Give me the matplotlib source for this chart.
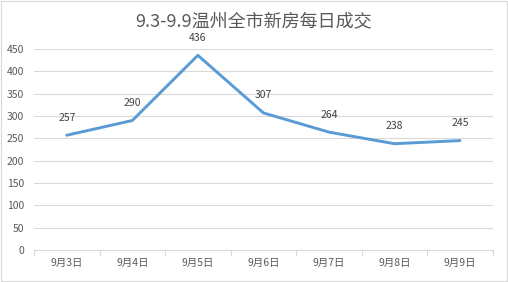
"""Daily new-home transactions in Wenzhou, 9.3-9.9."""

import matplotlib
matplotlib.use('Agg')
from matplotlib import pyplot as plt

plt.rcParams['font.family'] = ['Noto Sans CJK SC', 'DejaVu Sans']

days = ['9月3日', '9月4日', '9月5日', '9月6日', '9月7日', '9月8日', '9月9日']
deals = [257, 290, 436, 307, 264, 238, 245]
y_ticks = [0, 50, 100, 150, 200, 250, 300, 350, 400, 450]

_GRID = '#d9d9d9'
_TEXT = '#595959'


def main():
    fig = plt.figure(figsize=(5.08, 2.82), dpi=100)
    ax = fig.add_axes([0.067, 0.1135, 0.903, 0.7125])

    # Line series
    x = list(range(len(days)))
    ax.plot(x, deals, color='#5b9bd5', linewidth=2.1, solid_capstyle='round',
            solid_joinstyle='round', zorder=3)
    for xi, v in zip(x, deals):
        ax.annotate(str(v), (xi, v), xytext=(0, 9), textcoords='offset points',
                    ha='center', va='bottom', fontsize=7.5, color='#404040')

    # Axes
    ax.set_xlim(-0.5, len(days) - 0.5)
    ax.set_ylim(0, 450)
    ax.set_yticks(y_ticks)
    ax.tick_params(axis='y', length=0, labelsize=7.5, labelcolor=_TEXT, pad=7)
    ax.set_xticks(x)
    ax.set_xticklabels(days)
    ax.tick_params(axis='x', length=0, labelsize=7.5, labelcolor=_TEXT, pad=6)
    ax.set_xticks([i - 0.5 for i in range(len(days) + 1)], minor=True)
    ax.tick_params(axis='x', which='minor', length=4, color=_GRID, width=0.8)
    ax.grid(axis='y', color=_GRID, linewidth=0.8)
    ax.set_axisbelow(True)
    for side in ['top', 'right', 'left']:
        ax.spines[side].set_visible(False)
    ax.spines['bottom'].set_color(_GRID)
    ax.spines['bottom'].set_linewidth(0.8)

    fig.text(0.5, 0.925, '9.3-9.9温州全市新房每日成交', ha='center',
             va='center', fontsize=13, color=_TEXT)

    # Outer border
    fig.patches.append(plt.Rectangle((0.001, 0.002), 0.997, 0.995,
                                     transform=fig.transFigure, fill=False,
                                     edgecolor=_GRID, linewidth=0.8))

    fig.savefig('out.png', dpi=100)


if __name__ == '__main__':
    main()
